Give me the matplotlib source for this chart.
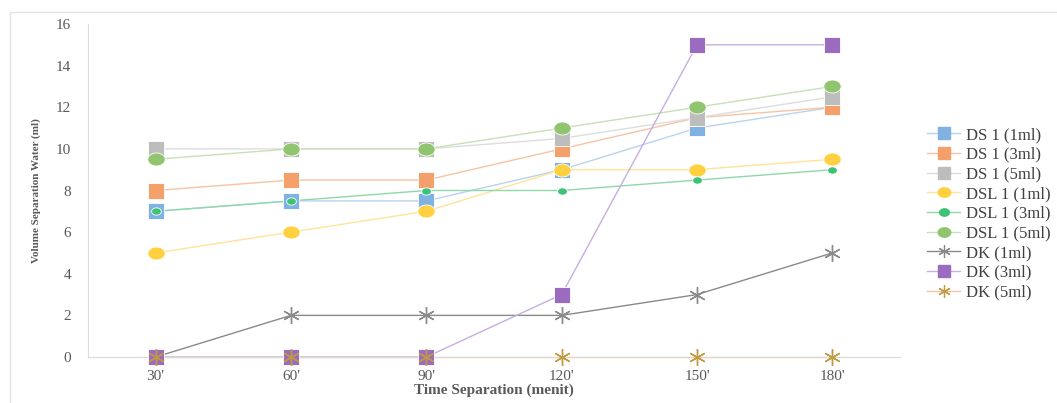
import matplotlib

matplotlib.use("Agg")
import matplotlib.pyplot as plt  # noqa: E402
import numpy as np  # noqa: E402
from matplotlib.patches import Rectangle  # noqa: E402
from matplotlib.path import Path  # noqa: E402

plt.rcParams.update({"font.family": ["Liberation Serif", "DejaVu Serif"]})

categories = ["30'", "60'", "90'", "120'", "150'", "180'"]
labels = ["DS 1 (1ml)", "DS 1 (3ml)", "DS 1 (5ml)", "DSL 1 (1ml)", "DSL 1 (3ml)",
          "DSL 1 (5ml)", "DK (1ml)", "DK (3ml)", "DK (5ml)"]
ds1_1 = [7, 7.5, 7.5, 9, 11, 12]
ds1_3 = [8, 8.5, 8.5, 10, 11.5, 12]
ds1_5 = [10, 10, 10, 10.5, 11.5, 12.5]
dsl1_1 = [5, 6, 7, 9, 9, 9.5]
dsl1_3 = [7, 7.5, 8, 8, 8.5, 9]
dsl1_5 = [9.5, 10, 10, 11, 12, 13]
dk_1 = [0, 2, 2, 2, 3, 5]
dk_3 = [0, 0, 0, 3, 15, 15]
dk_5 = [0, 0, 0, 0, 0, 0]
series = [ds1_1, ds1_3, ds1_5, dsl1_1, dsl1_3, dsl1_5, dk_1, dk_3, dk_5]

# flattened circle like the Excel markers
t = np.linspace(0, 2 * np.pi, 40)
ELLIPSE = Path(np.column_stack([np.cos(t), 0.75 * np.sin(t)]), closed=True)
STAR = (6, 2, 0)

# (line colour, marker, marker colour, marker size)
STYLES = [
    ("#b9d3ee", "s", "#7fb1e3", 11.5),
    ("#f6c3a3", "s", "#f4a06b", 11.5),
    ("#dddddd", "s", "#bdbdbd", 11.5),
    ("#ffe39a", ELLIPSE, "#ffd040", 12.5),
    ("#8fd8aa", ELLIPSE, "#3ec276", 7),
    ("#c8e0b6", ELLIPSE, "#90c46e", 12.5),
    ("#8a8a8a", STAR, "#8a8a8a", 12),
    ("#c7aee0", "s", "#9b6bc0", 11.5),
    ("#f6c3a3", STAR, "#c09a40", 12),
]

fig = plt.figure(figsize=(10.57, 4.03), dpi=100)
fig.patches.append(Rectangle((10 / 1057, -0.1), 1.2, 1 - 12 / 403 + 0.1,
                             transform=fig.transFigure, fill=False,
                             edgecolor="#e2e2e8", lw=1.0))
ax = fig.add_axes([88 / 1057, 46 / 403, 812 / 1057, 333 / 403])
x = list(range(len(categories)))
handles = []
for vals, lab, (lc, mk, mc, ms) in zip(series, labels, STYLES):
    ax.plot(x, vals, color=lc, lw=1.0, zorder=2, clip_on=False)
    if mk == STAR:
        ax.plot(x, vals, linestyle="none", marker=mk, ms=ms, mew=1.0,
                mec=mc, zorder=3, clip_on=False)
        h, = ax.plot([], [], color=lc, lw=1.0, marker=mk, ms=9, mew=0.9, mec=mc)
    else:
        ax.plot(x, vals, linestyle="none", marker=mk, ms=ms, mfc=mc,
                mec="white", mew=0.6, zorder=3, clip_on=False)
        h, = ax.plot([], [], color=lc, lw=1.0, marker=mk,
                     ms=min(ms, 9), mfc=mc, mec=mc)
    handles.append(h)

ax.set_xlim(-0.5, 5.5)
ax.set_ylim(0, 16)
ax.set_yticks(range(0, 17, 2))
ax.set_xticks(x)
ax.set_xticklabels(categories)
ax.tick_params(length=0, labelsize=11, colors="#595959")
ax.tick_params(axis="y", pad=12)
ax.tick_params(axis="x", pad=9)
for s in ["top", "right"]:
    ax.spines[s].set_visible(False)
ax.spines["left"].set_color("#d9dde6")
ax.spines["bottom"].set_color("#d9d9d9")
ax.set_xlabel("Time Separation (menit)", fontsize=11, fontweight="bold",
              color="#595959", labelpad=1)
ax.set_ylabel("Volume Separation Water (ml)", fontsize=8, fontweight="bold",
              color="#595959", labelpad=11)

fig.legend(handles, labels, loc="upper left", bbox_to_anchor=(912 / 1057, 1 - 112 / 403),
           frameon=False, fontsize=12, labelcolor="#404040", handlelength=2.0,
           labelspacing=0.22, handletextpad=0.35)

fig.savefig("out.png", dpi=100)
